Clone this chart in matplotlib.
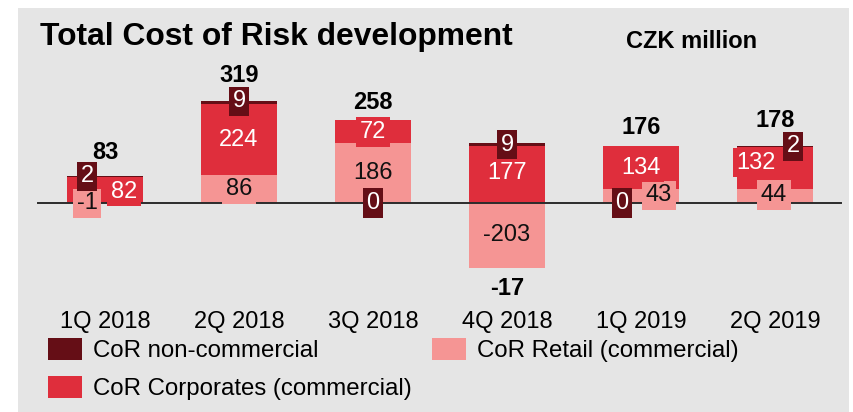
import matplotlib
matplotlib.use('Agg')
import matplotlib.pyplot as plt
from matplotlib.patches import Rectangle

plt.rcParams['font.family'] = ['Liberation Sans', 'DejaVu Sans']

# data (CZK million)
quarters = ['1Q 2018', '2Q 2018', '3Q 2018', '4Q 2018', '1Q 2019', '2Q 2019']
noncomm = [2, 9, 0, 9, 0, 2]
corporates = [82, 224, 72, 177, 134, 132]
retail = [-1, 86, 186, -203, 43, 44]
totals = [83, 319, 258, -17, 176, 178]

c_non = '#650e16'
c_corp = '#df2e3c'
c_ret = '#f59594'
bg = '#e5e5e5'

# label nudges in pixels (dx right, dy up)
ret_nudge = {0: (-18, 0), 4: (18, 1), 5: (-1, 1)}
corp_nudge = {0: (19, -2), 3: (0, 2), 5: (-19, 5)}
non_nudge = {0: (-18, 0), 1: (0, 1), 4: (-19, 0), 5: (18, 0)}
tot_off = [24, 25, 18, 21, 19, 26]

W, H = 854, 412
fig = plt.figure(figsize=(W / 100, H / 100), dpi=100)
fig.patches.append(Rectangle((18 / W, 0), (849 - 18) / W, (H - 8) / H,
                             transform=fig.transFigure, fc=bg, ec='none', zorder=-10))

ax = fig.add_axes([0, 0, 1, 1])
ax.patch.set_alpha(0)
ax.axis('off')
# scale: bar centres every 134 px starting at 105 px, 0.32 px per CZK m, baseline at 203 px
ax.set_xlim(-105 / 134, (W - 105) / 134)
ax.set_ylim(-(H - 203) / 0.32, 203 / 0.32)

x = list(range(len(quarters)))
pos_ret = [max(r, 0) for r in retail]
corp_bottom = pos_ret
non_bottom = [p + c for p, c in zip(pos_ret, corporates)]
bw = 0.56

b_ret = ax.bar(x, retail, bw, color=c_ret, label='CoR Retail (commercial)', zorder=2)
b_corp = ax.bar(x, corporates, bw, bottom=corp_bottom, color=c_corp,
                label='CoR Corporates (commercial)', zorder=2)
b_non = ax.bar(x, noncomm, bw, bottom=non_bottom, color=c_non,
               label='CoR non-commercial', zorder=2)

ax.axhline(0, xmin=38 / W, xmax=841 / W, color='#2b2b2b', lw=1.4, zorder=3)

pt = 0.72  # points per pixel


def seg_label(i, y, val, fc, tc, nudge, z):
    dx, dy = nudge.get(i, (0, 0))
    ax.annotate(str(val), xy=(i, y), xytext=(dx * pt, dy * pt), textcoords='offset points',
                ha='center', va='center', fontsize=17, color=tc, zorder=z,
                bbox=dict(boxstyle='square,pad=0.15', fc=fc, ec='none'))


for i in x:
    r = retail[i]
    seg_label(i, r / 2, r, c_ret, '#111111', ret_nudge, 5)
    c = corporates[i]
    seg_label(i, corp_bottom[i] + c / 2, c, c_corp, 'white', corp_nudge, 6)
    n = noncomm[i]
    ny = non_bottom[i] + n / 2 if n != 0 else 0
    seg_label(i, ny, n, c_non, 'white', non_nudge, 7)

    top = non_bottom[i] + n
    if totals[i] >= 0:
        ax.annotate(str(totals[i]), xy=(i, top), xytext=(0, tot_off[i] * pt),
                    textcoords='offset points', ha='center', va='center',
                    fontsize=17, fontweight='bold', color='black')
    else:
        ax.annotate(str(totals[i]), xy=(i, min(retail[i], 0)), xytext=(0, -tot_off[i] * pt),
                    textcoords='offset points', ha='center', va='center',
                    fontsize=17, fontweight='bold', color='black')

    ax.annotate(quarters[i], xy=(i, 0), xytext=(0, -119 * pt), textcoords='offset points',
                ha='center', va='center', fontsize=17, color='black')

fig.text(40 / W, 1 - 37 / H, 'Total Cost of Risk development', fontsize=22.9,
         fontweight='bold', ha='left', va='center')
fig.text(626 / W, 1 - 42 / H, 'CZK million', fontsize=17, fontweight='bold',
         ha='left', va='center')

ax.legend(handles=[b_non, b_corp, b_ret], ncol=2, loc='upper left',
          bbox_to_anchor=(48 / W, 1 - 338 / H), bbox_transform=fig.transFigure,
          frameon=False, fontsize=17.3, handlelength=1.42, handleheight=1.05,
          handletextpad=0.45, columnspacing=0.85, labelspacing=0.55,
          borderpad=0, borderaxespad=0)

fig.savefig('out.png', dpi=100, facecolor='white')
